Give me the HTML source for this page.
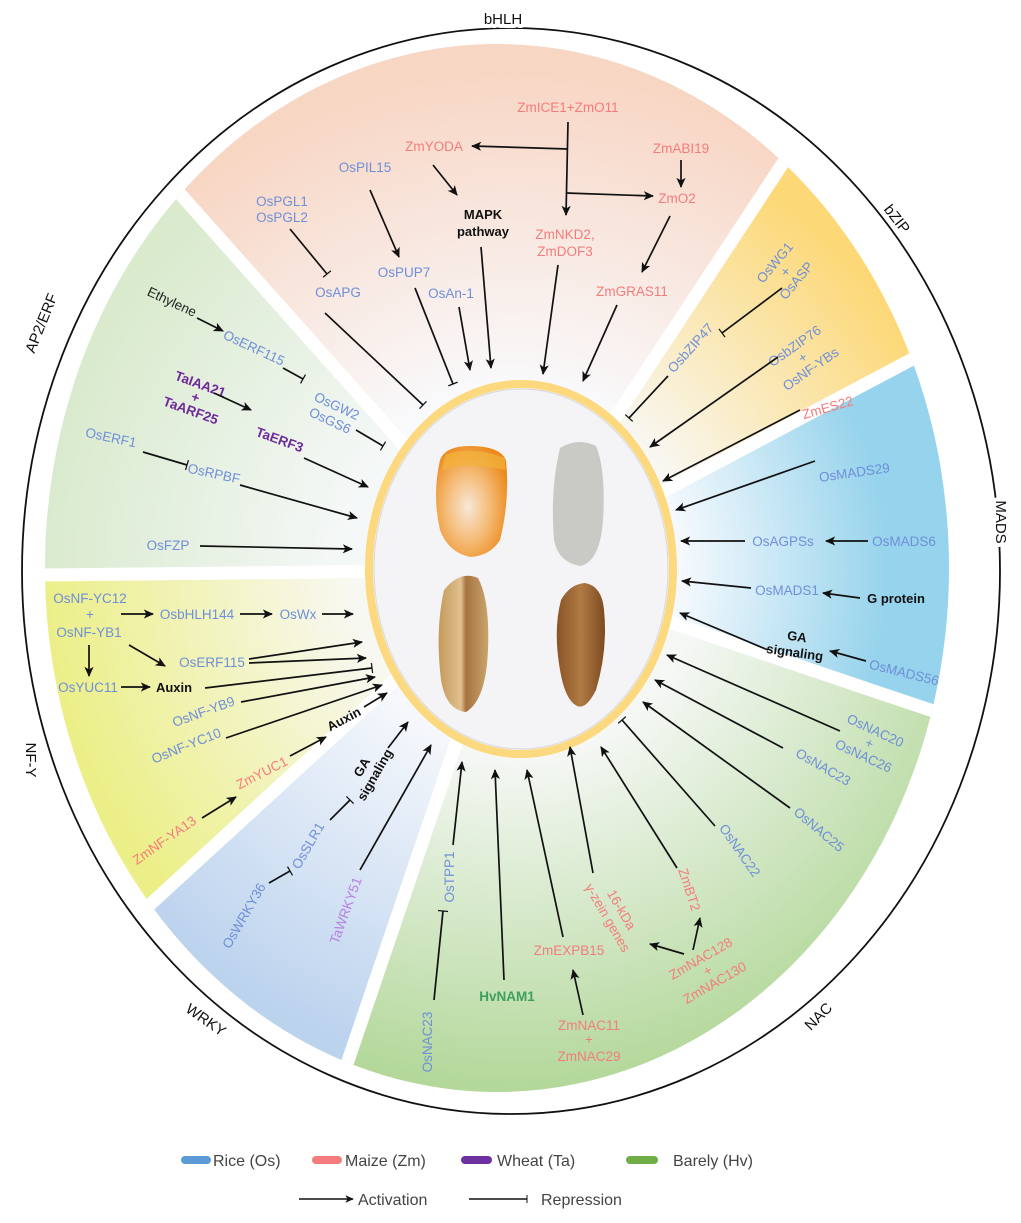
<!DOCTYPE html>
<html><head><meta charset="utf-8"><style>
html,body{margin:0;padding:0;background:#fff;width:1021px;height:1223px;overflow:hidden;}
svg{display:block;overflow:hidden;font-family:"Liberation Sans",Arial,sans-serif;}
.b{fill:#6f8fd8;font-size:13.5px;}
.r{fill:#f47c7c;font-size:13.5px;}
.p{fill:#6f2a9a;font-size:13.5px;font-weight:bold;}
.k{fill:#111;font-size:13px;font-weight:bold;}
.lab{fill:#111;font-size:15px;stroke:#fff;stroke-width:8px;paint-order:stroke;stroke-linejoin:round;}
.a{stroke:#111;stroke-width:1.7;fill:none;marker-end:url(#ma);}
.t{stroke:#111;stroke-width:1.7;fill:none;marker-end:url(#mt);}
.lg{fill:#444;font-size:16px;}
</style></head><body>
<svg width="1021" height="1223" viewBox="0 0 1021 1223" xmlns="http://www.w3.org/2000/svg">
<defs>
<marker id="ma" viewBox="0 0 10 10" refX="9" refY="5" markerWidth="6" markerHeight="6" orient="auto"><path d="M0,0.5 L10,5 L0,9.5 L2.5,5z" fill="#111"/></marker>
<marker id="mt" viewBox="0 0 4 10" refX="2" refY="5" markerWidth="2.4" markerHeight="6" orient="auto"><line x1="2" y1="0" x2="2" y2="10" stroke="#111" stroke-width="1.2"/></marker>
<clipPath id="cp"><ellipse cx="497" cy="568" rx="452" ry="524"/></clipPath>
<radialGradient id="g1" gradientUnits="userSpaceOnUse" cx="515" cy="570" r="500"><stop offset="0.35" stop-color="#f9fafd"/><stop offset="1" stop-color="#f8d6c4"/></radialGradient>
<radialGradient id="g2" gradientUnits="userSpaceOnUse" cx="515" cy="570" r="480"><stop offset="0.35" stop-color="#f8f8f6"/><stop offset="0.95" stop-color="#fcd877"/></radialGradient>
<radialGradient id="g3" gradientUnits="userSpaceOnUse" cx="515" cy="570" r="440"><stop offset="0.38" stop-color="#f5f9fd"/><stop offset="0.85" stop-color="#96d3ec"/></radialGradient>
<radialGradient id="g4" gradientUnits="userSpaceOnUse" cx="515" cy="570" r="520"><stop offset="0.35" stop-color="#f6f8f6"/><stop offset="1" stop-color="#b3d89a"/></radialGradient>
<radialGradient id="g5" gradientUnits="userSpaceOnUse" cx="515" cy="570" r="500"><stop offset="0.35" stop-color="#f6f8fc"/><stop offset="1" stop-color="#bcd3ee"/></radialGradient>
<radialGradient id="g6" gradientUnits="userSpaceOnUse" cx="515" cy="570" r="470"><stop offset="0.35" stop-color="#f8f8f2"/><stop offset="1" stop-color="#ecef88"/></radialGradient>
<radialGradient id="g7" gradientUnits="userSpaceOnUse" cx="515" cy="570" r="480"><stop offset="0.35" stop-color="#f5f8f8"/><stop offset="1" stop-color="#d9eacd"/></radialGradient>
<radialGradient id="corn" cx="0.45" cy="0.55" r="0.6"><stop offset="0" stop-color="#f7e8d8"/><stop offset="0.55" stop-color="#f4b870"/><stop offset="1" stop-color="#ec8a1c"/></radialGradient>
<linearGradient id="wheat" x1="0" x2="1"><stop offset="0" stop-color="#c49a5c"/><stop offset="0.45" stop-color="#e0c08e"/><stop offset="0.55" stop-color="#a67440"/><stop offset="1" stop-color="#c9a56c"/></linearGradient>
<linearGradient id="barley" x1="0" x2="1"><stop offset="0" stop-color="#8a5426"/><stop offset="0.5" stop-color="#b07a44"/><stop offset="1" stop-color="#7c4a20"/></linearGradient>
</defs>

<g clip-path="url(#cp)">
<polygon points="515,570 -460,-525 1325,-660" fill="url(#g1)"/>
<polygon points="515,570 1325,-660 1730,-75" fill="url(#g2)"/>
<polygon points="515,570 1730,-75 1805,1005" fill="url(#g3)"/>
<polygon points="515,570 1805,1005 20,2025" fill="url(#g4)"/>
<polygon points="515,570 20,2025 -565,1560" fill="url(#g5)"/>
<polygon points="515,570 -565,1560 -910,585" fill="url(#g6)"/>
<polygon points="515,570 -910,585 -460,-525" fill="url(#g7)"/>
<g stroke="#fff" stroke-width="13">
<line x1="515" y1="570" x2="-460" y2="-525"/><line x1="515" y1="570" x2="1325" y2="-660"/>
<line x1="515" y1="570" x2="1730" y2="-75"/><line x1="515" y1="570" x2="1805" y2="1005"/>
<line x1="515" y1="570" x2="20" y2="2025"/><line x1="515" y1="570" x2="-565" y2="1560"/>
<line x1="515" y1="570" x2="-910" y2="585"/>
</g>
</g>

<ellipse cx="511" cy="571" rx="489" ry="543" fill="none" stroke="#111" stroke-width="1.8"/>
<text class="lab" x="503" y="24" text-anchor="middle">bHLH</text>
<text class="lab" transform="translate(893,222) rotate(52)" text-anchor="middle">bZIP</text>
<text class="lab" transform="translate(996,522) rotate(90)" text-anchor="middle">MADS</text>
<text class="lab" transform="translate(822,1020) rotate(-45)" text-anchor="middle">NAC</text>
<text class="lab" transform="translate(203,1024) rotate(35)" text-anchor="middle">WRKY</text>
<text class="lab" transform="translate(26,760) rotate(90)" text-anchor="middle">NF-Y</text>
<text class="lab" transform="translate(46,325) rotate(-68)" text-anchor="middle">AP2/ERF</text>

<!-- inner ellipse -->
<ellipse cx="521" cy="569" rx="152" ry="185" fill="#f4f4f6" stroke="#fcd97e" stroke-width="8"/>
<ellipse cx="521" cy="569" rx="147" ry="180" fill="none" stroke="#d8d8da" stroke-width="1"/>
<!-- grains -->
<path d="M440,460 Q445,446 470,446 Q500,446 506,460 Q510,500 500,540 Q490,556 470,557 Q448,552 440,530 Q432,495 440,460z" fill="url(#corn)"/>
<path d="M445,455 Q470,445 505,458 L505,470 Q470,462 442,470z" fill="#f2b43c" opacity="0.7"/>
<path d="M560,448 Q578,437 596,446 Q606,470 603,520 Q600,562 580,566 Q558,562 554,540 Q550,490 560,448z" fill="#c9c9c6"/>
<path d="M444,590 Q460,570 478,578 Q490,600 488,650 Q486,700 466,712 Q446,710 441,680 Q435,630 444,590z" fill="url(#wheat)"/>
<path d="M561,600 Q570,584 585,583 Q602,586 604,610 Q608,650 596,690 Q586,710 577,706 Q565,700 560,670 Q553,630 561,600z" fill="url(#barley)"/>

<!-- bHLH -->
<text class="r" x="568" y="112" text-anchor="middle">ZmICE1+ZmO11</text>
<line x1="568" y1="122" x2="566" y2="215" class="a"/>
<line x1="568" y1="149" x2="472" y2="146" class="a"/>
<line x1="566" y1="193" x2="653" y2="196" class="a"/>
<text class="r" x="681" y="153" text-anchor="middle">ZmABI19</text>
<line x1="681" y1="160" x2="681" y2="187" class="a"/>
<text class="r" x="434" y="151" text-anchor="middle">ZmYODA</text>
<line x1="433" y1="165" x2="457" y2="195" class="a"/>
<text class="r" x="677" y="203" text-anchor="middle">ZmO2</text>
<line x1="670" y1="216" x2="642" y2="272" class="a"/>
<text class="k" x="483" y="219" text-anchor="middle">MAPK</text>
<text class="k" x="483" y="236" text-anchor="middle">pathway</text>
<text class="b" x="365" y="172" text-anchor="middle">OsPIL15</text>
<line x1="370" y1="190" x2="399" y2="257" class="a"/>
<text class="b" x="282" y="206" text-anchor="middle">OsPGL1</text>
<text class="b" x="282" y="222" text-anchor="middle">OsPGL2</text>
<line x1="290" y1="229" x2="327" y2="274" class="t"/>
<text class="b" x="338" y="297" text-anchor="middle">OsAPG</text>
<line x1="325" y1="313" x2="423" y2="405" class="t"/>
<text class="b" x="404" y="277" text-anchor="middle">OsPUP7</text>
<line x1="415" y1="288" x2="453" y2="384" class="t"/>
<text class="b" x="451" y="298" text-anchor="middle">OsAn-1</text>
<line x1="459" y1="307" x2="470" y2="370" class="a"/>
<line x1="481" y1="247" x2="491" y2="368" class="a"/>
<text class="r" x="565" y="239" text-anchor="middle">ZmNKD2,</text>
<text class="r" x="565" y="256" text-anchor="middle">ZmDOF3</text>
<line x1="558" y1="265" x2="543" y2="374" class="a"/>
<text class="r" x="632" y="296" text-anchor="middle">ZmGRAS11</text>
<line x1="617" y1="305" x2="583" y2="381" class="a"/>

<!-- bZIP -->
<g transform="translate(786,272) rotate(-50)"><text class="b" x="0" y="-10" text-anchor="middle">OsWG1</text><text class="b" x="0" y="4" text-anchor="middle">+</text><text class="b" x="0" y="18" text-anchor="middle">OsASP</text></g>
<line x1="782" y1="288" x2="722" y2="333" class="t"/>
<text class="b" transform="translate(694,351) rotate(-48)" text-anchor="middle">OsbZIP47</text>
<line x1="668" y1="376" x2="629" y2="418" class="t"/>
<g transform="translate(803,358) rotate(-35)"><text class="b" x="0" y="-10" text-anchor="middle">OsbZIP76</text><text class="b" x="0" y="4" text-anchor="middle">+</text><text class="b" x="0" y="18" text-anchor="middle">OsNF-YBs</text></g>
<line x1="778" y1="357" x2="650" y2="447" class="a"/>

<!-- MADS -->
<text class="r" transform="translate(829,412) rotate(-16)" text-anchor="middle">ZmES22</text>
<line x1="800" y1="410" x2="663" y2="481" class="a"/>
<text class="b" transform="translate(855,477) rotate(-8)" text-anchor="middle">OsMADS29</text>
<line x1="815" y1="461" x2="676" y2="510" class="a"/>
<text class="b" x="783" y="546" text-anchor="middle">OsAGPSs</text>
<line x1="745" y1="541" x2="681" y2="541" class="a"/>
<text class="b" x="904" y="546" text-anchor="middle">OsMADS6</text>
<line x1="868" y1="541" x2="826" y2="541" class="a"/>
<text class="b" x="787" y="595" text-anchor="middle">OsMADS1</text>
<line x1="751" y1="588" x2="682" y2="581" class="a"/>
<text class="k" x="896" y="603" text-anchor="middle">G protein</text>
<line x1="860" y1="598" x2="823" y2="593" class="a"/>
<g transform="translate(796,644) rotate(8)"><text class="k" x="0" y="-3" text-anchor="middle">GA</text><text class="k" x="0" y="13" text-anchor="middle">signaling</text></g>
<line x1="768" y1="650" x2="680" y2="613" class="a"/>
<text class="b" transform="translate(903,677) rotate(14)" text-anchor="middle">OsMADS56</text>
<line x1="866" y1="661" x2="830" y2="651" class="a"/>

<!-- NAC -->
<g transform="translate(870,742) rotate(25)"><text class="b" x="0" y="-8" text-anchor="middle">OsNAC20</text><text class="b" x="0" y="6" text-anchor="middle">+</text><text class="b" x="0" y="20" text-anchor="middle">OsNAC26</text></g>
<line x1="840" y1="731" x2="667" y2="655" class="a"/>
<text class="b" transform="translate(821,771) rotate(30)" text-anchor="middle">OsNAC23</text>
<line x1="783" y1="748" x2="655" y2="680" class="a"/>
<text class="b" transform="translate(816,833) rotate(40)" text-anchor="middle">OsNAC25</text>
<line x1="790" y1="808" x2="643" y2="702" class="a"/>
<text class="b" transform="translate(736,853) rotate(55)" text-anchor="middle">OsNAC22</text>
<line x1="715" y1="826" x2="622" y2="720" class="t"/>
<text class="r" transform="translate(685,891) rotate(72)" text-anchor="middle">ZmBT2</text>
<line x1="677" y1="868" x2="601" y2="747" class="a"/>
<g transform="translate(614,914) rotate(60)"><text class="r" x="0" y="-4" text-anchor="middle">16-kDa</text><text class="r" x="0" y="12" text-anchor="middle">γ-zein genes</text></g>
<line x1="593" y1="873" x2="570" y2="747" class="a"/>
<g transform="translate(705,966) rotate(-30)"><text class="r" x="0" y="-4" text-anchor="middle">ZmNAC128</text><text class="r" x="0" y="10" text-anchor="middle">+</text><text class="r" x="0" y="24" text-anchor="middle">ZmNAC130</text></g>
<line x1="693" y1="950" x2="700" y2="918" class="a"/>
<line x1="684" y1="954" x2="650" y2="944" class="a"/>
<text class="r" x="569" y="955" text-anchor="middle">ZmEXPB15</text>
<line x1="563" y1="937" x2="527" y2="770" class="a"/>
<text class="r" x="589" y="1030" text-anchor="middle">ZmNAC11</text>
<text class="r" x="589" y="1044" text-anchor="middle">+</text>
<text class="r" x="589" y="1061" text-anchor="middle">ZmNAC29</text>
<line x1="583" y1="1015" x2="573" y2="970" class="a"/>
<text x="507" y="1001" text-anchor="middle" style="fill:#3ea05c;font-size:13.5px;font-weight:bold">HvNAM1</text>
<line x1="504" y1="980" x2="495" y2="770" class="a"/>
<text class="b" transform="translate(454,877) rotate(-90)" text-anchor="middle">OsTPP1</text>
<line x1="453" y1="845" x2="462" y2="762" class="a"/>
<text class="b" transform="translate(432,1042) rotate(-90)" text-anchor="middle">OsNAC23</text>
<line x1="434" y1="1000" x2="443" y2="911" class="t"/>

<!-- WRKY -->
<text transform="translate(350,912) rotate(-70)" text-anchor="middle" style="fill:#b77fe2;font-size:13.5px">TaWRKY51</text>
<line x1="360" y1="870" x2="431" y2="745" class="a"/>
<text class="b" transform="translate(248,918) rotate(-60)" text-anchor="middle">OsWRKY36</text>
<line x1="269" y1="883" x2="290" y2="871" class="t"/>
<text class="b" transform="translate(312,848) rotate(-60)" text-anchor="middle">OsSLR1</text>
<line x1="330" y1="820" x2="350" y2="800" class="t"/>
<g transform="translate(370,772) rotate(-60)"><text class="k" x="0" y="-5" text-anchor="middle">GA</text><text class="k" x="0" y="10" text-anchor="middle">signaling</text></g>
<line x1="388" y1="748" x2="408" y2="722" class="a"/>

<!-- NF-Y -->
<text class="b" x="90" y="603" text-anchor="middle">OsNF-YC12</text>
<text class="b" x="90" y="619" text-anchor="middle">+</text>
<text class="b" x="89" y="637" text-anchor="middle">OsNF-YB1</text>
<line x1="121" y1="614" x2="153" y2="614" class="a"/>
<text class="b" x="197" y="619" text-anchor="middle">OsbHLH144</text>
<line x1="240" y1="614" x2="272" y2="614" class="a"/>
<text class="b" x="298" y="619" text-anchor="middle">OsWx</text>
<line x1="322" y1="614" x2="353" y2="614" class="a"/>
<line x1="89" y1="645" x2="89" y2="676" class="a"/>
<text class="b" x="88" y="692" text-anchor="middle">OsYUC11</text>
<line x1="121" y1="687" x2="150" y2="687" class="a"/>
<text class="k" x="174" y="692" text-anchor="middle">Auxin</text>
<line x1="129" y1="645" x2="165" y2="666" class="a"/>
<text class="b" x="212" y="667" text-anchor="middle">OsERF115</text>
<line x1="249" y1="659" x2="362" y2="642" class="a"/>
<line x1="249" y1="663" x2="366" y2="658" class="a"/>
<line x1="205" y1="688" x2="372" y2="668" class="t"/>
<text class="b" transform="translate(205,716) rotate(-20)" text-anchor="middle">OsNF-YB9</text>
<line x1="241" y1="702" x2="375" y2="677" class="a"/>
<text class="b" transform="translate(188,750) rotate(-22)" text-anchor="middle">OsNF-YC10</text>
<line x1="226" y1="738" x2="382" y2="685" class="a"/>
<text class="k" transform="translate(346,723) rotate(-28)" text-anchor="middle">Auxin</text>
<line x1="364" y1="707" x2="387" y2="693" class="a"/>
<text class="r" transform="translate(264,777) rotate(-27)" text-anchor="middle">ZmYUC1</text>
<line x1="290" y1="756" x2="326" y2="737" class="a"/>
<text class="r" transform="translate(167,844) rotate(-35)" text-anchor="middle">ZmNF-YA13</text>
<line x1="202" y1="818" x2="236" y2="797" class="a"/>

<!-- AP2/ERF -->
<text transform="translate(170,306) rotate(25)" text-anchor="middle" style="fill:#222;font-size:13.5px">Ethylene</text>
<line x1="197" y1="318" x2="223" y2="331" class="a"/>
<text class="b" transform="translate(252,352) rotate(25)" text-anchor="middle">OsERF115</text>
<line x1="283" y1="368" x2="303" y2="379" class="t"/>
<g transform="translate(334,412) rotate(25)"><text class="b" x="0" y="-2" text-anchor="middle">OsGW2</text><text class="b" x="0" y="14" text-anchor="middle">OsGS6</text></g>
<line x1="356" y1="430" x2="383" y2="446" class="t"/>
<g transform="translate(196,396) rotate(20)"><text class="p" x="0" y="-8" text-anchor="middle">TaIAA21</text><text class="p" x="0" y="6" text-anchor="middle">+</text><text class="p" x="0" y="20" text-anchor="middle">TaARF25</text></g>
<line x1="214" y1="393" x2="251" y2="410" class="a"/>
<text class="p" transform="translate(278,444) rotate(20)" text-anchor="middle">TaERF3</text>
<line x1="304" y1="458" x2="368" y2="487" class="a"/>
<text class="b" transform="translate(110,442) rotate(12)" text-anchor="middle">OsERF1</text>
<line x1="143" y1="452" x2="187" y2="465" class="t"/>
<text class="b" transform="translate(213,478) rotate(12)" text-anchor="middle">OsRPBF</text>
<line x1="240" y1="485" x2="357" y2="518" class="a"/>
<text class="b" x="168" y="550" text-anchor="middle">OsFZP</text>
<line x1="200" y1="546" x2="352" y2="549" class="a"/>

<!-- legend -->
<rect x="181" y="1156" width="30" height="8" rx="4" fill="#5b9bd5"/>
<text class="lg" x="213" y="1166">Rice (Os)</text>
<rect x="312" y="1156" width="30" height="8" rx="4" fill="#f47c7c"/>
<text class="lg" x="345" y="1166">Maize (Zm)</text>
<rect x="461" y="1156" width="31" height="8" rx="4" fill="#7030a0"/>
<text class="lg" x="497" y="1166">Wheat (Ta)</text>
<rect x="626" y="1156" width="32" height="8" rx="4" fill="#70ad47"/>
<text class="lg" x="673" y="1166">Barely (Hv)</text>
<line x1="299" y1="1199" x2="353" y2="1199" class="a" style="stroke-width:1.4"/>
<text class="lg" x="358" y="1205">Activation</text>
<line x1="469" y1="1199" x2="527" y2="1199" class="t" style="stroke-width:1.4"/>
<text class="lg" x="541" y="1205">Repression</text>
</svg>
</body></html>
